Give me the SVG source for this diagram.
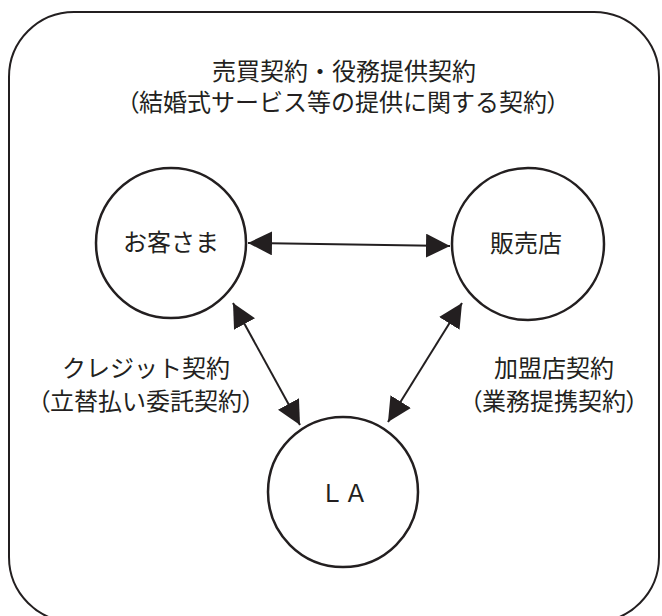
<svg xmlns="http://www.w3.org/2000/svg" width="662" height="616" viewBox="0 0 662 616">
<defs>
<style>
.t{font-family:"Noto Sans CJK JP","Noto Sans",sans-serif;font-size:24px;fill:#231f20;text-anchor:middle}
.p{font-feature-settings:"palt"}
.n{fill:#fff;stroke:#231f20;stroke-width:2.5}
.c{stroke:#231f20;stroke-width:2;fill:none;marker-start:url(#ah);marker-end:url(#ah)}
</style>
<marker id="ah" viewBox="0 0 24 24" refX="24" refY="12" markerWidth="24" markerHeight="24" markerUnits="userSpaceOnUse" orient="auto-start-reverse">
<path d="M0,0 L24,12 L0,24 Z" fill="#231f20"/>
</marker>
</defs>
<rect x="9" y="12" width="650" height="610" rx="65" ry="65" fill="#fff" stroke="#231f20" stroke-width="2"/>
<g id="title">
<text class="t" x="344" y="80">売買契約・役務提供契約</text>
<text class="t" x="343" y="111"><tspan class="p">（</tspan>結婚式サービス等の提供に関する契約<tspan class="p">）</tspan></text>
</g>
<g id="label-left">
<text class="t" x="146" y="377">クレジット契約</text>
<text class="t" x="146" y="410"><tspan class="p">（</tspan>立替払い委託契約<tspan class="p">）</tspan></text>
</g>
<g id="label-right">
<text class="t" x="554" y="377">加盟店契約</text>
<text class="t" x="554" y="410"><tspan class="p">（</tspan>業務提携契約<tspan class="p">）</tspan></text>
</g>
<g id="connectors">
<line class="c" x1="248" y1="243" x2="450" y2="246"/>
<line class="c" x1="233" y1="303" x2="300" y2="425"/>
<line class="c" x1="462" y1="303" x2="388" y2="422"/>
</g>
<g id="customer">
<circle class="n" cx="171" cy="243" r="75"/>
<text class="t" x="171" y="251">お客さま</text>
</g>
<g id="store">
<circle class="n" cx="528" cy="244" r="76"/>
<text class="t" x="526" y="252">販売店</text>
</g>
<g id="la">
<circle class="n" cx="343" cy="492" r="75"/>
<text class="t" x="344" y="502">ＬＡ</text>
</g>
</svg>
